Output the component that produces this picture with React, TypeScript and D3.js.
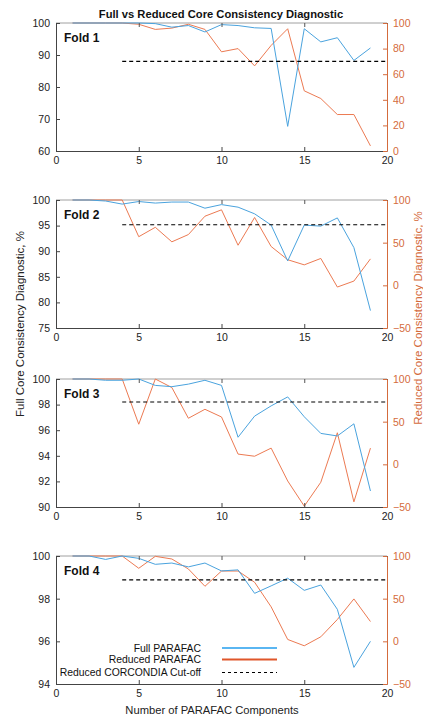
import * as d3 from "d3";
import { useRef, useEffect } from "react";

const components = d3.range(1, 20);

const full1 = [100, 100, 100, 100, 100, 99.8, 98.7, 99.2, 97.2, 99.5, 99.2, 98.5, 98.3, 67.7, 98.2, 94.1, 95.4, 88.3, 92.2];
const reduced1 = [100, 100, 100, 100, 99, 95, 96, 99, 95, 77.5, 80, 66.5, 82.5, 95.5, 47, 41, 28.5, 28.5, 4];

const full2 = [100, 100, 99.8, 99.2, 99.7, 99.4, 99.6, 99.6, 98.4, 99.1, 98.6, 97.3, 95.1, 88.1, 95.1, 94.9, 96.5, 90.7, 78.4];
const reduced2 = [100, 100, 100, 100, 57, 68, 51, 59.5, 81, 88.5, 47, 79.5, 45.5, 30, 24, 31.5, -2, 5, 31];

const full3 = [100, 100, 99.9, 99.9, 100, 99.5, 99.4, 99.6, 99.9, 99.5, 95.45, 97.1, 97.9, 98.6, 97.05, 95.75, 95.55, 96.5, 91.25];
const reduced3 = [100, 100, 100, 100, 47, 100, 90, 54, 64.5, 55.5, 12, 9.5, 19, -19.5, -49, -21, 37, -44, 19];

const full4 = [100, 100, 99.84, 100, 99.89, 99.61, 99.67, 99.49, 99.67, 99.3, 99.35, 98.25, 98.6, 98.96, 98.39, 98.64, 97.5, 94.78, 96];
const reduced4 = [100, 100, 100, 100, 85.6, 99.6, 96.5, 84.8, 64.5, 82.4, 82.4, 69.2, 40.4, 2.2, -5.2, 5.3, 25.6, 49.7, 23.2];

const cutoffs = [70, 71, 73, 72];
const foldNames = ["Fold 1", "Fold 2", "Fold 3", "Fold 4"];
const leftDomains = [[60, 100], [75, 100], [90, 100], [94, 100]];
const leftTicks = [[60, 70, 80, 90, 100], [75, 80, 85, 90, 95, 100], [90, 92, 94, 96, 98, 100], [94, 96, 98, 100]];
const rightDomains = [[0, 100], [-50, 100], [-50, 100], [-50, 100]];
const rightTicks = [[0, 20, 40, 60, 80, 100], [-50, 0, 50, 100], [-50, 0, 50, 100], [-50, 0, 50, 100]];
const xTicks = [0, 5, 10, 15, 20];

const legendLabels = ["Full PARAFAC", "Reduced PARAFAC", "Reduced CORCONDIA Cut-off"];

export default function App() {
  const svgRef = useRef<SVGSVGElement>(null);

  const width = 423;
  const height = 721;
  const left = 56;
  const right = 387;
  const panelTops = [23, 200, 379, 556];
  const panelH = 128;
  const blue = "#4aa3de";
  const orange = "#ec7a52";
  const axisOrange = "#d46b3c";
  const font = "'Liberation Sans', Arial, sans-serif";

  useEffect(() => {
    const svg = d3.select(svgRef.current);
    svg.selectAll("*").remove();

    const fulls = [full1, full2, full3, full4];
    const reduceds = [reduced1, reduced2, reduced3, reduced4];

    const x = d3.scaleLinear().domain([0, 20]).range([left, right]);
    const fmt = d3.format("d");

    panelTops.forEach((top, i) => {
      const bottom = top + panelH;
      const yL = d3.scaleLinear().domain(leftDomains[i]).range([bottom, top]);
      const yR = d3.scaleLinear().domain(rightDomains[i]).range([bottom, top]);
      const g = svg.append("g");

      // frame top edge
      g.append("line").attr("x1", left).attr("x2", right).attr("y1", top).attr("y2", top)
        .attr("stroke", "#a0a0a0").attr("stroke-width", 1);

      const lineL = d3.line<number>().x((_, j) => x(components[j])).y(d => yL(d));
      const lineR = d3.line<number>().x((_, j) => x(components[j])).y(d => yR(d));

      g.append("path").datum(reduceds[i]).attr("fill", "none").attr("stroke", orange)
        .attr("stroke-width", 1).attr("d", lineR);
      g.append("path").datum(fulls[i]).attr("fill", "none").attr("stroke", blue)
        .attr("stroke-width", 1).attr("d", lineL);

      g.append("line").attr("x1", x(4)).attr("x2", x(20))
        .attr("y1", yR(cutoffs[i])).attr("y2", yR(cutoffs[i]))
        .attr("stroke", "#000").attr("stroke-width", 1.1).attr("stroke-dasharray", "4,3");

      const xAxis = g.append("g").attr("transform", `translate(0,${bottom})`)
        .call(d3.axisBottom(x).tickValues(xTicks).tickSizeInner(-4).tickSizeOuter(0).tickPadding(6));
      g.append("g").attr("transform", `translate(0,${top})`)
        .call(d3.axisTop(x).tickValues(xTicks).tickSizeInner(-4).tickSizeOuter(0).tickFormat(() => ""))
        .call(a => a.select(".domain").remove())
        .selectAll("line").attr("stroke", "#555");

      const yAxisL = g.append("g").attr("transform", `translate(${left},0)`)
        .call(d3.axisLeft(yL).tickValues(leftTicks[i]).tickFormat(d => fmt(d as number))
          .tickSizeInner(-4).tickSizeOuter(0).tickPadding(6));

      const yAxisR = g.append("g").attr("transform", `translate(${right},0)`)
        .call(d3.axisRight(yR).tickValues(rightTicks[i]).tickFormat(d => fmt(d as number))
          .tickSizeInner(-4).tickSizeOuter(0).tickPadding(6));

      [xAxis, yAxisL].forEach(a => {
        a.select(".domain").attr("stroke", "#444");
        a.selectAll("line").attr("stroke", "#444");
        a.selectAll("text").attr("fill", "#222").style("font-family", font).style("font-size", "10.5px");
      });
      yAxisR.select(".domain").attr("stroke", axisOrange);
      yAxisR.selectAll("line").attr("stroke", axisOrange);
      yAxisR.selectAll("text").attr("fill", axisOrange).style("font-family", font).style("font-size", "10.5px");

      g.append("text").attr("x", left + 8).attr("y", top + 18.5).text(foldNames[i])
        .style("font-family", font).style("font-size", "12px").style("font-weight", "bold").attr("fill", "#111");
    });

    svg.append("text").attr("x", 221).attr("y", 18).attr("text-anchor", "middle")
      .text("Full vs Reduced Core Consistency Diagnostic")
      .style("font-family", font).style("font-size", "11.2px").style("font-weight", "bold").attr("fill", "#111");

    svg.append("text").attr("transform", `translate(20,324) rotate(-90)`).attr("text-anchor", "middle")
      .attr("dy", "0.35em")
      .text("Full Core Consistency Diagnostic, %")
      .style("font-family", font).style("font-size", "11.5px").attr("fill", "#222");
    svg.append("text").attr("transform", `translate(418,318) rotate(-90)`).attr("text-anchor", "middle")
      .attr("dy", "0.35em")
      .text("Reduced Core Consistency Diagnostic, %")
      .style("font-family", font).style("font-size", "11.5px").attr("fill", axisOrange);
    svg.append("text").attr("x", 212).attr("y", 714).attr("text-anchor", "middle")
      .text("Number of PARAFAC Components")
      .style("font-family", font).style("font-size", "11.2px").attr("fill", "#222");

    const legendY = [648, 659.5, 672.5];
    const legend = svg.append("g");
    legendLabels.forEach((label, k) => {
      legend.append("text").attr("x", 201).attr("y", legendY[k]).attr("text-anchor", "end")
        .attr("dy", "0.35em").text(label)
        .style("font-family", font).style("font-size", "10.4px").attr("fill", "#111");
      legend.append("line").attr("x1", 222).attr("x2", 277).attr("y1", legendY[k]).attr("y2", legendY[k])
        .attr("stroke", k === 0 ? "#5ab6f2" : k === 1 ? "#e0562a" : "#000")
        .attr("stroke-width", k === 2 ? 1 : 2)
        .attr("stroke-dasharray", k === 2 ? "3,3" : null);
    });
  }, []);

  return (
    <svg ref={svgRef} width={width} height={height}
      style={{ position: "absolute", left: 0, top: 0, background: "#fff" }} />
  );
}
